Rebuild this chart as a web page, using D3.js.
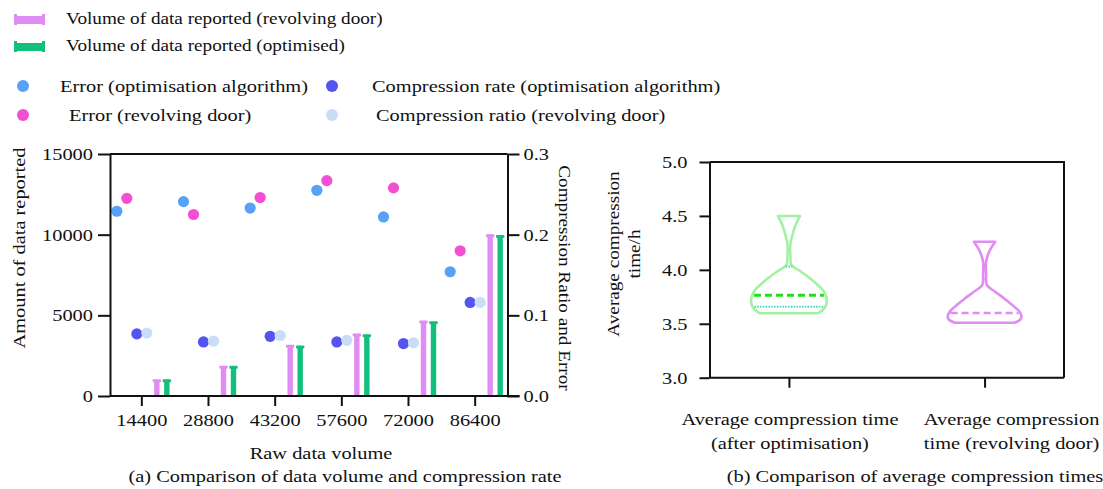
<!DOCTYPE html>
<html>
<head>
<meta charset="utf-8">
<script src="https://cdn.jsdelivr.net/npm/d3@7"></script>
<style>
  body { margin: 0; background: #fff; }
  svg text { font-family: "Liberation Serif", "Times New Roman", serif; fill: #111; }
</style>
</head>
<body>
<div class="chart"></div>
<script>
// ---- data (a) ----
const rawVolume = ["14400", "28800", "43200", "57600", "72000", "86400"];
const volumeRevolving = [1000, 1850, 3150, 3850, 4650, 10000];
const volumeOptimised = [1000, 1850, 3100, 3800, 4600, 9950];
const errorOptimised = [0.229, 0.241, 0.233, 0.255, 0.222, 0.154];
const errorRevolving = [0.245, 0.225, 0.246, 0.267, 0.258, 0.180];
const compressionOptimised = [0.077, 0.067, 0.074, 0.067, 0.065, 0.116];
const compressionRevolving = [0.078, 0.068, 0.075, 0.069, 0.066, 0.116];
const leftTicks = [0, 5000, 10000, 15000];
const rightTicks = [0, 0.1, 0.2, 0.3];

// ---- data (b) ----
const timeCategories = ["optimised", "revolving"];
const timeTicks = [3.0, 3.5, 4.0, 4.5, 5.0];
// violin outlines: value levels and relative density
const violinOptLevels = [4.50, 4.42, 4.32, 4.24, 4.12, 4.045, 3.983, 3.92, 3.86, 3.80, 3.736, 3.674, 3.628, 3.597];
const violinOptDensity = [0.29, 0.18, 0.09, 0.04, 0.04, 0.066, 0.32, 0.56, 0.76, 0.92, 0.99, 0.98, 0.89, 0.76];
const violinRevLevels = [4.26, 4.168, 4.075, 3.96, 3.86, 3.797, 3.736, 3.674, 3.612, 3.566, 3.535, 3.51];
const violinRevDensity = [0.28, 0.12, 0.04, 0.04, 0.06, 0.28, 0.51, 0.73, 0.92, 0.97, 0.93, 0.78];
const medianTimes = [3.764, 3.60];
const quartileOpt = [3.658, 4.03];

const colors = {
  errOpt: "#55a2f6", errRev: "#f24fd2", compOpt: "#5454f0", compRev: "#c9ddf6",
  volRev: "#df8cf3", volOpt: "#12bf7c", violinOpt: "#a2f2a2", violinRev: "#e08cf2",
  median: "#22dd22", quart: "#3fe0cc"
};

// the source uses a wide serif face: stretch text horizontally
const SX = 1.2;
function widen(sel) {
  sel.each(function () {
    const t = d3.select(this);
    const x = +t.attr("x") || 0, y = +t.attr("y") || 0;
    const tr = t.attr("transform") || "";
    t.attr("x", 0).attr("y", 0).attr("transform", `${tr} translate(${x},${y}) scale(${SX},1)`);
  });
}

const svg = d3.select(".chart").append("svg").attr("width", 1103).attr("height", 489);

// ---------------- legend ----------------
const leg = svg.append("g");
function barSwatch(y, color) {
  const g = leg.append("g").attr("fill", color);
  g.append("rect").attr("x", 14).attr("y", y - 4).attr("width", 31).attr("height", 8);
  g.append("rect").attr("x", 14).attr("y", y - 6).attr("width", 3).attr("height", 11);
  g.append("rect").attr("x", 42).attr("y", y - 6).attr("width", 3).attr("height", 11);
}
barSwatch(20, colors.volRev);
leg.append("text").attr("x", 66).attr("y", 24).style("font-size", "16px")
  .text("Volume of data reported (revolving door)").call(widen);
barSwatch(47, colors.volOpt);
leg.append("text").attr("x", 66).attr("y", 51).style("font-size", "16px")
  .text("Volume of data reported (optimised)").call(widen);
const dotLegend = [
  { x: 23, y: 86, tx: 60, c: colors.errOpt, t: "Error (optimisation algorithm)" },
  { x: 332, y: 86, tx: 372, c: colors.compOpt, t: "Compression rate (optimisation algorithm)" },
  { x: 23, y: 115, tx: 69, c: colors.errRev, t: "Error (revolving door)" },
  { x: 332, y: 115, tx: 376, c: colors.compRev, t: "Compression ratio (revolving door)" }
];
dotLegend.forEach(d => {
  leg.append("circle").attr("cx", d.x).attr("cy", d.y).attr("r", 6).attr("fill", d.c);
  leg.append("text").attr("x", d.tx).attr("y", d.y + 5.5).style("font-size", "17px").text(d.t).call(widen);
});

// ---------------- chart (a) ----------------
const a = { left: 110, right: 507.5, top: 154, bottom: 396 };
const x = d3.scaleBand().domain(rawVolume).range([108.5, 508.5]);
const seriesKeys = ["errOpt", "errRev", "compOpt", "compRev", "volRev", "volOpt"];
const xs = d3.scaleBand().domain(seriesKeys).range([0, x.bandwidth()]).paddingOuter(0.333);
const yL = d3.scaleLinear().domain([0, 15000]).range([a.bottom, a.top]);
const yR = d3.scaleLinear().domain([0, 0.3]).range([a.bottom, a.top]);
const cx = (i, key) => x(rawVolume[i]) + xs(key) + xs.bandwidth() / 2;

const gA = svg.append("g");

// bars with small caps
function drawBars(values, key, color) {
  const g = gA.append("g").attr("fill", color);
  values.forEach((v, i) => {
    const c = cx(i, key);
    g.append("rect").attr("x", c - 2.7).attr("y", yL(v)).attr("width", 5.4).attr("height", yL(0) - yL(v));
    g.append("rect").attr("x", c - 4.2).attr("y", yL(v) - 0.5).attr("width", 8.4).attr("height", 3).attr("rx", 1);
  });
}
drawBars(volumeRevolving, "volRev", colors.volRev);
drawBars(volumeOptimised, "volOpt", colors.volOpt);

function drawDots(values, key, color) {
  gA.append("g").selectAll("circle").data(values).join("circle")
    .attr("cx", (d, i) => cx(i, key)).attr("cy", d => yR(d)).attr("r", 5.6).attr("fill", color);
}
drawDots(errorOptimised, "errOpt", colors.errOpt);
drawDots(errorRevolving, "errRev", colors.errRev);
drawDots(compressionOptimised, "compOpt", colors.compOpt);
drawDots(compressionRevolving, "compRev", colors.compRev);

const axisStyle = g => {
  g.selectAll("path, line").attr("stroke", "#111").attr("stroke-width", 2);
  g.selectAll("text").style("font-size", "17px").attr("fill", "#111")
    .style("font-family", '"Liberation Serif", serif').call(widen);
};
gA.append("g").attr("transform", `translate(${a.left},0)`)
  .call(d3.axisLeft(yL).tickValues(leftTicks).tickFormat(d3.format("d")).tickSize(12).tickSizeOuter(0).tickPadding(5))
  .call(axisStyle);
gA.append("g").attr("transform", `translate(${a.right},0)`)
  .call(d3.axisRight(yR).tickValues(rightTicks).tickFormat(d3.format(".1f")).tickSize(12).tickSizeOuter(0).tickPadding(4))
  .call(axisStyle);
gA.append("g").attr("transform", `translate(0,${a.bottom})`)
  .call(d3.axisBottom(x).tickSize(10).tickSizeOuter(0).tickPadding(8))
  .call(axisStyle)
  .call(g => g.select(".domain").attr("d", `M${a.left},0H${a.right + 12}`));
gA.append("line").attr("x1", a.left).attr("x2", a.right).attr("y1", a.top).attr("y2", a.top)
  .attr("stroke", "#111").attr("stroke-width", 2);

gA.append("text").attr("transform", "translate(25,248) rotate(-90)").attr("text-anchor", "middle")
  .style("font-size", "17px").text("Amount of data reported").call(widen);
gA.append("text").attr("transform", "translate(559,278) rotate(90)").attr("text-anchor", "middle")
  .style("font-size", "16px").text("Compression Ratio and Error").call(widen);
gA.append("text").attr("x", 321).attr("y", 459).attr("text-anchor", "middle")
  .style("font-size", "17px").text("Raw data volume").call(widen);
gA.append("text").attr("x", 345).attr("y", 482).attr("text-anchor", "middle")
  .style("font-size", "17px").text("(a) Comparison of data volume and compression rate").call(widen);

// ---------------- chart (b) ----------------
const b = { left: 709.5, right: 1064, top: 162, bottom: 377.7 };
const xb = d3.scalePoint().domain(timeCategories).range([b.left, b.right]).padding(0.406);
const yb = d3.scaleLinear().domain([3, 5]).range([b.bottom, b.top]);
const wb = d3.scaleLinear().domain([0, 1]).range([0, 38]);
const gB = svg.append("g");

function halfWidthAt(levels, dens, v) {
  for (let i = 0; i < levels.length - 1; i++) {
    const hi = levels[i], lo = levels[i + 1];
    if (v <= hi && v >= lo) return d3.interpolateNumber(dens[i + 1], dens[i])((v - lo) / (hi - lo));
  }
  return 0;
}

function drawViolin(levels, dens, cat, color) {
  const c = xb(cat);
  const pts = levels.map((l, i) => ({ l, d: dens[i] }));
  const area = d3.area().y(d => yb(d.l)).x0(d => c - wb(d.d)).x1(d => c + wb(d.d))
    .curve(d3.curveCatmullRom.alpha(0.5));
  gB.append("path").attr("d", area(pts)).attr("fill", "none")
    .attr("stroke", color).attr("stroke-width", 2.6).attr("stroke-linejoin", "round");
}
drawViolin(violinOptLevels, violinOptDensity, "optimised", colors.violinOpt);
drawViolin(violinRevLevels, violinRevDensity, "revolving", colors.violinRev);

function hLine(levels, dens, cat, v, color, width, dash) {
  const c = xb(cat), hw = wb(halfWidthAt(levels, dens, v)) - 1.5;
  gB.append("line").attr("x1", c - hw).attr("x2", c + hw).attr("y1", yb(v)).attr("y2", yb(v))
    .attr("stroke", color).attr("stroke-width", width).attr("stroke-dasharray", dash);
}
quartileOpt.forEach(q => hLine(violinOptLevels, violinOptDensity, "optimised", q, colors.quart, 2, "1.6,1.2"));
hLine(violinOptLevels, violinOptDensity, "optimised", medianTimes[0], colors.median, 3, "7,4");
hLine(violinRevLevels, violinRevDensity, "revolving", medianTimes[1], colors.violinRev, 2.6, "7,4");

gB.append("g").attr("transform", `translate(${b.left},0)`)
  .call(d3.axisLeft(yb).tickValues(timeTicks).tickFormat(d3.format(".1f")).tickSize(10).tickSizeOuter(0).tickPadding(12))
  .call(axisStyle);
gB.append("g").attr("transform", `translate(0,${b.bottom})`)
  .call(d3.axisBottom(xb).tickSize(10).tickSizeOuter(0).tickFormat(""))
  .call(g => g.selectAll("path, line").attr("stroke", "#111").attr("stroke-width", 2))
  .call(g => g.select(".domain").attr("d", `M${b.left},0H${b.right}`));
gB.append("path").attr("d", `M${b.left},${b.top}H${b.right}V${b.bottom}`)
  .attr("fill", "none").attr("stroke", "#111").attr("stroke-width", 2);

const yTitle = gB.append("text").attr("transform", "translate(619,254) rotate(-90)")
  .attr("text-anchor", "middle").style("font-size", "16px");
yTitle.append("tspan").attr("x", 0).attr("dy", 0).text("Average compression");
yTitle.append("tspan").attr("x", 0).attr("dy", 21).text("time/h");
yTitle.call(widen);

const catLabels = [["Average compression time", "(after optimisation)"], ["Average compression", "time (revolving door)"]];
const catShift = [1, 27];
timeCategories.forEach((cat, i) => {
  const t = gB.append("text").attr("text-anchor", "middle").style("font-size", "17px")
    .attr("x", xb(cat) + catShift[i]).attr("y", 425);
  t.append("tspan").attr("x", 0).attr("dy", 0).text(catLabels[i][0]);
  t.append("tspan").attr("x", 0).attr("dy", 24).text(catLabels[i][1]);
  t.call(widen);
});
gB.append("text").attr("x", 915).attr("y", 482).attr("text-anchor", "middle")
  .style("font-size", "17px").text("(b) Comparison of average compression times").call(widen);
</script>
</body>
</html>
